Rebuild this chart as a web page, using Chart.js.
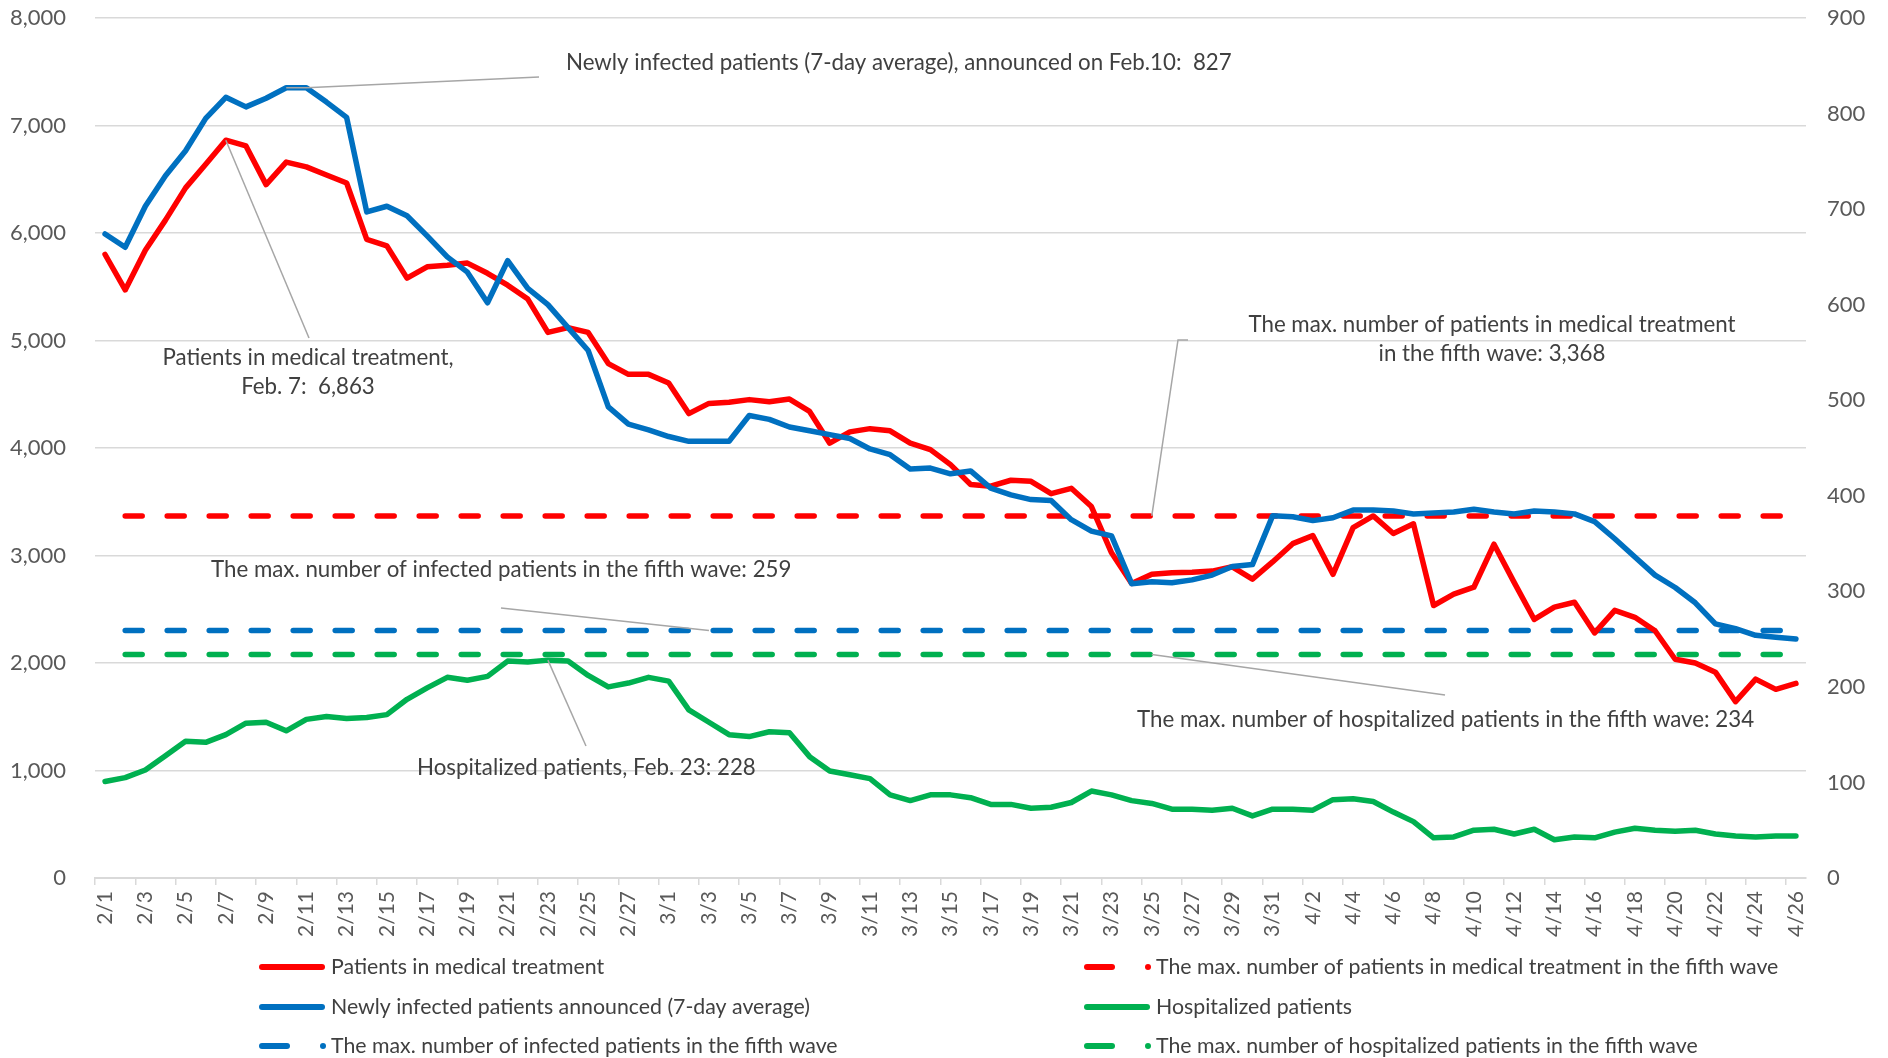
<!DOCTYPE html>
<html>
<head>
<meta charset="utf-8">
<script src="https://cdn.jsdelivr.net/npm/chart.js@4.4.1/dist/chart.umd.min.js"></script>
<style>
  html, body { margin: 0; padding: 0; background: #fff; }
  #wrap { width: 1888px; height: 1058px; position: relative; }
</style>
</head>
<body>
<div id="wrap"><canvas id="chart"></canvas></div>
<script>
const dates = [
    '2/1', '2/2', '2/3', '2/4', '2/5', '2/6', '2/7', '2/8', '2/9', '2/10',
    '2/11', '2/12', '2/13', '2/14', '2/15', '2/16', '2/17', '2/18', '2/19', '2/20',
    '2/21', '2/22', '2/23', '2/24', '2/25', '2/26', '2/27', '2/28',
    '3/1', '3/2', '3/3', '3/4', '3/5', '3/6', '3/7', '3/8', '3/9', '3/10',
    '3/11', '3/12', '3/13', '3/14', '3/15', '3/16', '3/17', '3/18', '3/19', '3/20',
    '3/21', '3/22', '3/23', '3/24', '3/25', '3/26', '3/27', '3/28', '3/29', '3/30', '3/31',
    '4/1', '4/2', '4/3', '4/4', '4/5', '4/6', '4/7', '4/8', '4/9', '4/10',
    '4/11', '4/12', '4/13', '4/14', '4/15', '4/16', '4/17', '4/18', '4/19', '4/20',
    '4/21', '4/22', '4/23', '4/24', '4/25', '4/26'
];

// patients in medical treatment (left axis)
const treatment = [
    5800, 5470, 5840, 6120, 6420, 6640, 6863, 6810, 6450, 6660,
    6615, 6540, 6465, 5940, 5880, 5580, 5685, 5700, 5720, 5625,
    5515, 5385, 5075, 5120, 5075, 4785, 4685, 4685, 4605, 4320,
    4415, 4425, 4450, 4430, 4455, 4340, 4045, 4150, 4180, 4160,
    4045, 3985, 3845, 3660, 3645, 3700, 3690, 3575, 3625, 3455,
    3025, 2740, 2825, 2840, 2845, 2855, 2895, 2780, 2940, 3110,
    3185, 2825, 3260, 3368, 3205, 3295, 2535, 2640, 2705, 3105,
    2750, 2405, 2520, 2565, 2280, 2490, 2425, 2300, 2035, 2000,
    1915, 1640, 1850, 1755, 1810
];

// newly infected patients, 7-day average (right axis)
const newlyInfected = [
    674, 660, 703, 735, 761, 795, 817, 807, 816, 827,
    827, 812, 796, 697, 703, 693, 672, 650, 634, 602,
    646, 617, 600, 576, 552, 493, 475, 469, 462, 457,
    457, 457, 484, 480, 472, 468, 464, 460, 449, 443,
    428, 429, 423, 426, 408, 401, 396, 395, 375, 363,
    358, 308, 310, 309, 312, 317, 326, 328, 379, 378,
    374, 377, 385, 385, 384, 381, 382, 383, 386, 383,
    381, 384, 383, 381, 373, 355, 336, 317, 304, 288,
    266, 261, 254, 252, 250
];

// hospitalized patients (right axis)
const hospitalized = [
    101, 105, 113, 128, 143, 142, 150, 162, 163, 154,
    166, 169, 167, 168, 171, 187, 199, 210, 207, 211,
    227, 226, 228, 227, 212, 200, 204, 210, 206, 176,
    163, 150, 148, 153, 152, 127, 112, 108, 104, 87,
    81, 87, 87, 84, 77, 77, 73, 74, 79, 91,
    87, 81, 78, 72, 72, 71, 73, 65, 72, 72,
    71, 82, 83, 80, 69, 59, 42, 43, 50, 51,
    46, 51, 40, 43, 42, 48, 52, 50, 49, 50,
    46, 44, 43, 44, 44
];

// fifth wave maximums
const maxTreatment = 3368;
const maxInfected = 259;
const maxHospitalized = 234;

const leftTicks = [0, 1000, 2000, 3000, 4000, 5000, 6000, 7000, 8000];
const rightTicks = [0, 100, 200, 300, 400, 500, 600, 700, 800, 900];

const RED = '#ff0000';
const BLUE = '#0070c0';
const GREEN = '#00b050';
const FONT = 'Lato, "Open Sans", sans-serif';
const TEXT = '#404040';

// reference lines start at 2/2 like in the original sheet
function flatLine(v) {
    return dates.map((d, i) => i === 0 ? null : v);
}

function solid(label, data, color, axis, order) {
    return {
        label: label, data: data, yAxisID: axis, order: order,
        borderColor: color, backgroundColor: color,
        borderWidth: 5.5, pointRadius: 0, tension: 0,
        borderCapStyle: 'round', borderJoinStyle: 'round',
        dashed: false,
    };
}

function dashed(label, data, color, axis, order) {
    return {
        label: label, data: data, yAxisID: axis, order: order,
        borderColor: color, backgroundColor: color,
        borderWidth: 5.5, pointRadius: 0, tension: 0,
        borderDash: [17, 25], borderCapStyle: 'round',
        dashed: true,
    };
}

// datasets in legend order, drawing order via "order" (lowest on top)
const datasets = [
    solid('Patients in medical treatment', treatment, RED, 'y', 1),
    dashed('The max. number of patients in medical treatment in the fifth wave', flatLine(maxTreatment), RED, 'y', 5),
    solid('Newly infected patients announced (7-day average)', newlyInfected, BLUE, 'y1', 0),
    solid('Hospitalized patients', hospitalized, GREEN, 'y1', 2),
    dashed('The max. number of infected patients in the fifth wave', flatLine(maxInfected), BLUE, 'y1', 3),
    dashed('The max. number of hospitalized patients in the fifth wave', flatLine(maxHospitalized), GREEN, 'y1', 4),
];

function drawPath(ctx, pts) {
    ctx.beginPath();
    ctx.moveTo(pts[0][0], pts[0][1]);
    for (let i = 1; i < pts.length; i++) {
        ctx.lineTo(pts[i][0], pts[i][1]);
    }
    ctx.stroke();
}

function drawText(ctx, lines, x, y, align, step) {
    ctx.textAlign = align;
    lines.forEach(function (t, i) {
        ctx.fillText(t, x, y + i * step);
    });
}

const calloutPlugin = {
    id: 'callouts',
    afterDatasetsDraw(chart) {
        const ctx = chart.ctx;
        const x = chart.scales.x;
        const yl = chart.scales.y;
        const yr = chart.scales.y1;
        const px = i => x.getPixelForValue(i);

        ctx.save();
        ctx.strokeStyle = '#a6a6a6';
        ctx.lineWidth = 1.5;

        // leader lines
        drawPath(ctx, [[px(9), yr.getPixelForValue(newlyInfected[9])],
            [px(10), yr.getPixelForValue(newlyInfected[10])], [539, 77]]);
        drawPath(ctx, [[px(6), yl.getPixelForValue(treatment[6])], [309, 338]]);
        drawPath(ctx, [[px(52), yl.getPixelForValue(maxTreatment)], [1178, 340], [1188, 340]]);
        drawPath(ctx, [[501, 608], [px(30), yr.getPixelForValue(maxInfected)]]);
        drawPath(ctx, [[px(52), yr.getPixelForValue(maxHospitalized)], [1445, 695]]);
        drawPath(ctx, [[px(22), yr.getPixelForValue(hospitalized[22])], [586, 746]]);

        ctx.fillStyle = TEXT;
        ctx.font = '22.3px ' + FONT;
        ctx.textBaseline = 'middle';
        drawText(ctx, ['Newly infected patients (7-day average), announced on Feb.10:  827'], 566, 63, 'left', 0);
        drawText(ctx, ['Patients in medical treatment,', 'Feb. 7:  6,863'], 308, 358, 'center', 29);
        drawText(ctx, ['The max. number of patients in medical treatment', 'in the fifth wave: 3,368'], 1492, 325, 'center', 29);
        drawText(ctx, ['The max. number of infected patients in the fifth wave: 259'], 211, 570, 'left', 0);
        drawText(ctx, ['The max. number of hospitalized patients in the fifth wave: 234'], 1137, 720, 'left', 0);
        drawText(ctx, ['Hospitalized patients, Feb. 23: 228'], 417, 768, 'left', 0);
        ctx.restore();
    },
    afterDraw(chart) {
        // two column legend like the Excel original
        const ctx = chart.ctx;
        const cols = [259, 1084];
        const rows = [967, 1007, 1046];
        ctx.save();
        ctx.font = '21.3px ' + FONT;
        ctx.textBaseline = 'middle';
        ctx.textAlign = 'left';
        chart.data.datasets.forEach(function (ds, i) {
            const x0 = cols[i % 2];
            const y0 = rows[Math.floor(i / 2)];
            ctx.strokeStyle = ds.borderColor;
            ctx.fillStyle = ds.borderColor;
            ctx.lineWidth = 6;
            ctx.lineCap = 'round';
            ctx.beginPath();
            if (ds.dashed) {
                ctx.moveTo(x0 + 3, y0);
                ctx.lineTo(x0 + 28, y0);
                ctx.stroke();
                ctx.beginPath();
                ctx.arc(x0 + 64, y0, 3, 0, Math.PI * 2);
                ctx.fill();
            } else {
                ctx.moveTo(x0 + 3, y0);
                ctx.lineTo(x0 + 63, y0);
                ctx.stroke();
            }
            ctx.fillStyle = TEXT;
            ctx.fillText(ds.label, x0 + 72, y0);
        });
        ctx.restore();
    }
};

// keep the plot area where the original has it
function fixVertical(width) {
    return function (scale) {
        scale.width = width;
        scale.paddingTop = 0;
        scale.paddingBottom = 0;
    };
}

Chart.defaults.font.family = FONT;
Chart.defaults.color = '#595959';

new Chart(document.getElementById('chart'), {
    type: 'line',
    data: {
        labels: dates,
        datasets: datasets,
    },
    options: {
        responsive: true,
        maintainAspectRatio: false,
        animation: false,
        layout: {
            padding: { top: 18, left: 0, right: 0, bottom: 0 },
        },
        plugins: {
            legend: { display: false },
            tooltip: { enabled: false },
        },
        scales: {
            x: {
                offset: true,
                afterFit: function (scale) {
                    scale.height = 180;
                    scale.paddingLeft = 0;
                    scale.paddingRight = 0;
                },
                grid: {
                    offset: true,
                    drawOnChartArea: false,
                    drawTicks: true,
                    tickLength: 7,
                    lineWidth: 1.5,
                    color: function (c) {
                        return c.index % 2 === 0 ? '#d9d9d9' : 'rgba(0,0,0,0)';
                    },
                },
                border: { display: true, color: '#d9d9d9', width: 2 },
                ticks: {
                    autoSkip: false,
                    minRotation: 90,
                    maxRotation: 90,
                    padding: 6,
                    font: { size: 21 },
                    callback: function (val, idx) {
                        return idx % 2 === 0 ? dates[idx] : '';
                    },
                },
            },
            y: {
                position: 'left',
                min: 0,
                max: leftTicks[leftTicks.length - 1],
                afterFit: fixVertical(95),
                afterBuildTicks: function (scale) {
                    scale.ticks = leftTicks.map(v => ({ value: v }));
                },
                grid: { color: '#d9d9d9', lineWidth: 1.5, drawTicks: false },
                border: { display: false },
                ticks: {
                    padding: 29,
                    font: { size: 22 },
                    callback: function (v) { return v.toLocaleString('en-US'); },
                },
            },
            y1: {
                position: 'right',
                min: 0,
                max: rightTicks[rightTicks.length - 1],
                afterFit: fixVertical(82),
                afterBuildTicks: function (scale) {
                    scale.ticks = rightTicks.map(v => ({ value: v }));
                },
                grid: { drawOnChartArea: false, drawTicks: false },
                border: { display: false },
                ticks: {
                    padding: 21,
                    font: { size: 22 },
                },
            },
        },
    },
    plugins: [calloutPlugin],
});
</script>
</body>
</html>
